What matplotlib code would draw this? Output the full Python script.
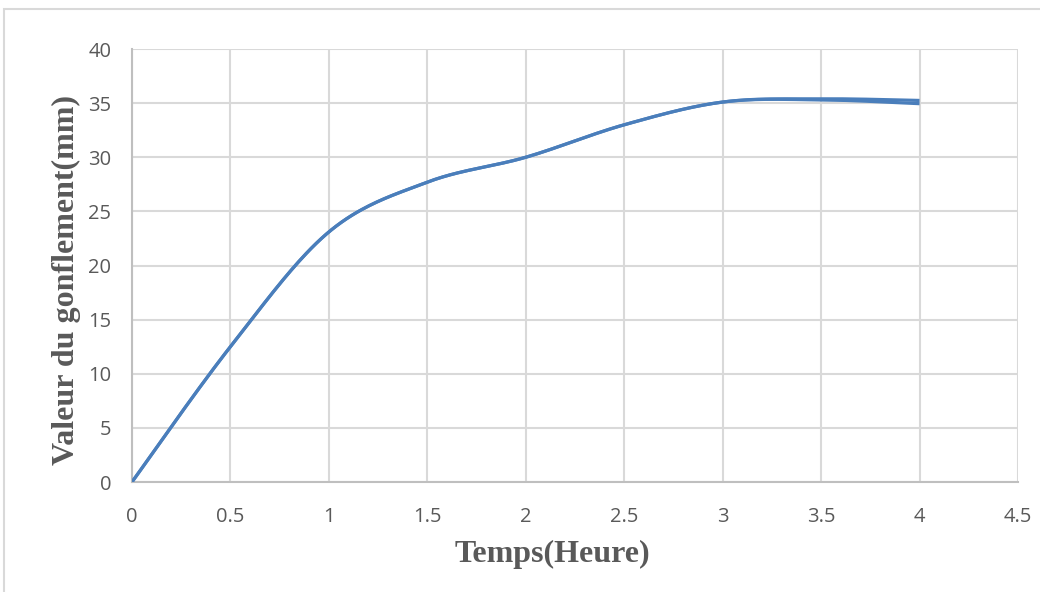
import numpy as np
from matplotlib import pyplot as plt
from matplotlib.patches import Rectangle

# Mesures de gonflement
temps = [0, 0.5, 1, 1.5, 2, 2.5, 3, 3.5, 4]
gonflement_a = [0, 12.5, 23.1, 27.7, 30.0, 33.0, 35.1, 35.4, 35.25]
gonflement_b = [0, 12.5, 23.1, 27.7, 30.0, 33.0, 35.1, 35.3, 34.95]

x_ticks = [0, 0.5, 1, 1.5, 2, 2.5, 3, 3.5, 4, 4.5]
y_ticks = [0, 5, 10, 15, 20, 25, 30, 35, 40]

GRIS = '#595959'
BLEU = '#4a7ebb'


def lissage(x, y, n=40):
    """Courbe lissée façon tableur (Bézier, tangentes (P[i+1]-P[i-1])/6)."""
    p = np.column_stack([x, y]).astype(float)
    ext = np.vstack([p[0], p, p[-1]])
    t = np.linspace(0, 1, n)[:, None]
    out = []
    for i in range(len(p) - 1):
        p0 = p[i]
        p3 = p[i + 1]
        c1 = p0 + (ext[i + 2] - ext[i]) / 6
        c2 = p3 - (ext[i + 3] - ext[i + 1]) / 6
        seg = ((1 - t) ** 3 * p0 + 3 * (1 - t) ** 2 * t * c1
               + 3 * (1 - t) * t ** 2 * c2 + t ** 3 * p3)
        out.append(seg if i == 0 else seg[1:])
    out = np.vstack(out)
    return out[:, 0], out[:, 1]


fig = plt.figure(figsize=(10.4, 5.92), dpi=100)
ax = fig.add_axes([0.1269, 0.1858, 0.8519, 0.7314])

# cadre du graphique
fig.patches.append(Rectangle((4 / 1040, -0.1), 1.2, 1 - 9 / 592 + 0.1,
                             transform=fig.transFigure, fill=False,
                             edgecolor='#d9d9d9', linewidth=1.5))

xs, ys = lissage(temps, gonflement_b)
ax.plot(xs, ys, color=BLEU, linewidth=2.3, solid_capstyle='butt', zorder=3)
xs, ys = lissage(temps, gonflement_a)
ax.plot(xs, ys, color=BLEU, linewidth=2.3, solid_capstyle='butt', zorder=3)

ax.set_xlim(0, 4.5)
ax.set_ylim(0, 40)
ax.set_xticks(x_ticks)
ax.set_yticks(y_ticks)
ax.set_xticklabels([f'{v:g}' for v in x_ticks])
ax.set_yticklabels([str(v) for v in y_ticks])

ax.grid(True, color='#d9d9d9', linewidth=1.5, zorder=0)
ax.set_axisbelow(True)
for s in ['top', 'right']:
    ax.spines[s].set_visible(False)
for s in ['left', 'bottom']:
    ax.spines[s].set_color('#bfbfbf')
    ax.spines[s].set_linewidth(1.5)

ax.tick_params(axis='both', length=0, colors=GRIS, labelsize=14.5)
ax.tick_params(axis='x', pad=18)
ax.tick_params(axis='y', pad=15)
for lab in ax.get_xticklabels() + ax.get_yticklabels():
    lab.set_family('Open Sans')

ax.set_xlabel('Temps(Heure)', family='Liberation Serif', fontweight='bold',
              fontsize=23, color=GRIS)
ax.set_ylabel('Valeur du gonflement(mm)', family='Liberation Serif',
              fontweight='bold', fontsize=23, color=GRIS)
ax.xaxis.set_label_coords(0.475, -0.133)
ax.yaxis.set_label_coords(-0.058, 0.466)

fig.savefig('out.png', dpi=100)
